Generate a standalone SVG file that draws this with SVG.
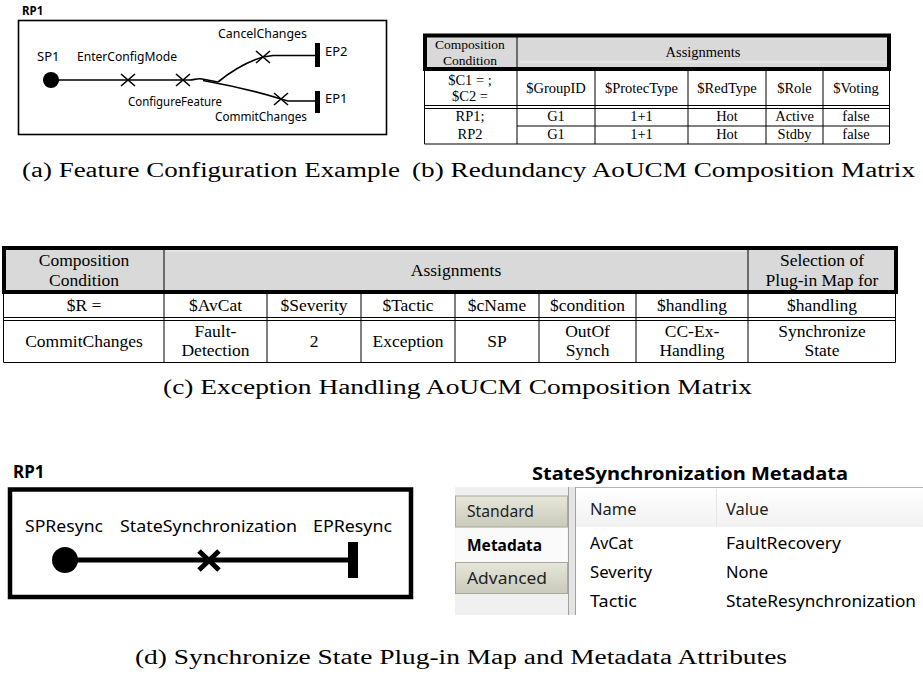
<svg xmlns="http://www.w3.org/2000/svg" width="923" height="675" viewBox="0 0 923 675">
<style>
.ui{font-family:"Noto Sans","Open Sans",sans-serif;fill:#000}
.tb{font-family:"Liberation Serif","Times New Roman",serif;fill:#000;text-anchor:middle}
.cap{font-family:"Liberation Serif","Times New Roman",serif;font-size:20.5px;fill:#000}
.thin{stroke:#000;stroke-width:1;fill:none}
.thick{stroke:#000;stroke-width:4;fill:none}
.hdr{fill:#d9d9d9}
.x{stroke:#000;stroke-width:1.6;fill:none}
.path{stroke:#000;stroke-width:1.7;fill:none}
.b{font-size:14.5px}
.c{font-size:17.5px}
</style>
<defs>
<linearGradient id="tab" x1="0" y1="0" x2="0" y2="1">
<stop offset="0" stop-color="#e6e6da"/><stop offset="1" stop-color="#cacabb"/>
</linearGradient>
<linearGradient id="gh" x1="0" y1="0" x2="0" y2="1">
<stop offset="0" stop-color="#ffffff"/><stop offset="1" stop-color="#f1f1f1"/>
</linearGradient>
</defs>
<rect width="923" height="675" fill="#fff"/>

<!-- Panel (a) -->
<g id="panelA">
<text x="22" y="15" font-size="11.5" font-weight="bold" class="ui">RP1</text>
<rect x="18.5" y="20.5" width="368" height="114" fill="none" stroke="#000" stroke-width="1.6"/>
</g>
<g id="connectorsA">
<path class="path" d="M51,80 H190 C194,80 197,78 202,79 L218,82"/>
<path class="path" d="M218,82 Q240,64 263,57 L273,55.5 H316"/>
<path class="path" d="M203,80.5 Q245,88 281,99 L288,101 H316"/>
</g>
<g id="SP1"><circle cx="51" cy="80" r="8"/><text x="37" y="61" font-size="13" class="ui">SP1</text></g>
<g id="EnterConfigMode"><path class="x" d="M121,74 L135,86 M121,86 L135,74"/><text x="77" y="61" font-size="13" class="ui" textLength="100" lengthAdjust="spacingAndGlyphs">EnterConfigMode</text></g>
<g id="ConfigureFeature"><path class="x" d="M176,74 L190,86 M176,86 L190,74"/><text x="128" y="106" font-size="13" class="ui" textLength="94" lengthAdjust="spacingAndGlyphs">ConfigureFeature</text></g>
<g id="CancelChanges"><path class="x" d="M256,51 L270,63 M256,63 L270,51"/><text x="218" y="38" font-size="13" class="ui" textLength="89" lengthAdjust="spacingAndGlyphs">CancelChanges</text></g>
<g id="CommitChanges"><path class="x" d="M274,93 L288,105 M274,105 L288,93"/><text x="215" y="121" font-size="13" class="ui" textLength="92" lengthAdjust="spacingAndGlyphs">CommitChanges</text></g>
<g id="EP2"><rect x="315" y="43" width="5" height="24"/><text x="325" y="56" font-size="13" class="ui">EP2</text></g>
<g id="EP1"><rect x="315" y="91" width="5" height="22"/><text x="325" y="103" font-size="13" class="ui">EP1</text></g>
<text x="22" y="177" class="cap" textLength="378" lengthAdjust="spacingAndGlyphs">(a) Feature Configuration Example</text>

<!-- Table (b) -->
<g id="tableB">
<rect x="425" y="35.5" width="464" height="33.5" class="hdr"/>
<line x1="519" y1="38" x2="887" y2="38" stroke="#ececec" stroke-width="1"/>
<line x1="519" y1="62" x2="887" y2="62" stroke="#ececec" stroke-width="1"/>
<line x1="517" y1="35.5" x2="517" y2="69" class="thin"/>
<rect x="425" y="35.5" width="464" height="33.5" class="thick"/>
<path class="thin" d="M424.5,69 V144 H889.5 V69 M424.5,105.5 H889.5 M424.5,108.5 H889.5 M517,69 V144 M595,69 V144 M688,69 V144 M766,69 V144 M823,69 V144 M517,126 H889.5"/>
<g class="tb b">
<text x="470" y="48.5" font-size="13.5">Composition</text><text x="470" y="65" font-size="13.5">Condition</text>
<text x="703" y="57">Assignments</text>
<text x="470" y="84.5">$C1 = ;</text><text x="470" y="101">$C2 =</text>
<text x="556" y="93">$GroupID</text><text x="641.5" y="93">$ProtecType</text><text x="727" y="93">$RedType</text><text x="794.5" y="93">$Role</text><text x="856" y="93">$Voting</text>
<text x="470" y="121">RP1;</text><text x="470" y="139">RP2</text>
<text x="556" y="121">G1</text><text x="641.5" y="121">1+1</text><text x="727" y="121">Hot</text><text x="794.5" y="121">Active</text><text x="856" y="121">false</text>
<text x="556" y="139">G1</text><text x="641.5" y="139">1+1</text><text x="727" y="139">Hot</text><text x="794.5" y="139">Stdby</text><text x="856" y="139">false</text>
</g>
</g>
<text x="412" y="177" class="cap" textLength="503" lengthAdjust="spacingAndGlyphs">(b) Redundancy AoUCM Composition Matrix</text>

<!-- Table (c) -->
<g id="tableC">
<rect x="4" y="248" width="892" height="44" class="hdr"/>
<line x1="166" y1="251" x2="746" y2="251" stroke="#ececec" stroke-width="1"/>
<line x1="164" y1="248" x2="164" y2="292" class="thin"/>
<line x1="748" y1="248" x2="748" y2="292" class="thin"/>
<rect x="4" y="248" width="892" height="44" class="thick"/>
<path class="thin" d="M3.5,292 V362.5 H895.5 V292 M3.5,317.5 H895.5 M3.5,320.5 H895.5 M164,292 V362 M267,292 V362 M361,292 V362 M455,292 V362 M539,292 V362 M636,292 V362 M748,292 V362"/>
<g class="tb c">
<text x="84" y="266">Composition</text><text x="84" y="286">Condition</text>
<text x="456" y="276">Assignments</text>
<text x="822" y="266">Selection of</text><text x="822" y="286">Plug-in Map for</text>
<text x="84" y="311">$R =</text><text x="215.5" y="311">$AvCat</text><text x="314" y="311">$Severity</text><text x="408" y="311">$Tactic</text><text x="497" y="311">$cName</text><text x="587.5" y="311">$condition</text><text x="692" y="311">$handling</text><text x="822" y="311">$handling</text>
<text x="84" y="347">CommitChanges</text>
<text x="215.5" y="337">Fault-</text><text x="215.5" y="356">Detection</text>
<text x="314" y="347">2</text><text x="408" y="347">Exception</text><text x="497" y="347">SP</text>
<text x="587.5" y="337">OutOf</text><text x="587.5" y="356">Synch</text>
<text x="692" y="337">CC-Ex-</text><text x="692" y="356">Handling</text>
<text x="822" y="337">Synchronize</text><text x="822" y="356">State</text>
</g>
</g>
<text x="163" y="394" class="cap" textLength="589" lengthAdjust="spacingAndGlyphs">(c) Exception Handling AoUCM Composition Matrix</text>

<!-- Panel (d) left -->
<g id="panelD">
<text x="13" y="478" font-size="17" font-weight="bold" class="ui">RP1</text>
<rect x="10" y="489.5" width="401" height="107.5" fill="none" stroke="#000" stroke-width="4.5"/>
</g>
<g id="connectorsD">
<line x1="65" y1="560" x2="350" y2="560" stroke="#000" stroke-width="5"/>
</g>
<g id="SPResync"><circle cx="65" cy="560" r="13"/><text x="25" y="532" font-size="17" class="ui" textLength="78" lengthAdjust="spacingAndGlyphs">SPResync</text></g>
<g id="StateSynchronization"><path d="M199,551 L219,570 M199,570 L219,551" stroke="#000" stroke-width="5" fill="none"/><text x="120" y="532" font-size="17" class="ui" textLength="177" lengthAdjust="spacingAndGlyphs">StateSynchronization</text></g>
<g id="EPResync"><rect x="348" y="542" width="10" height="36"/><text x="313" y="532" font-size="17" class="ui" textLength="79" lengthAdjust="spacingAndGlyphs">EPResync</text></g>

<!-- Panel (d) right: metadata -->
<g id="metadata">
<text x="532" y="480" font-size="18.5" font-weight="bold" class="ui" textLength="316" lengthAdjust="spacingAndGlyphs">StateSynchronization Metadata</text>
<rect x="455" y="487" width="113" height="128" fill="#f0f0f0"/>
<rect x="455.5" y="496" width="112" height="31" fill="url(#tab)" stroke="#a8a8a0"/>
<rect x="455.5" y="528" width="112" height="34" fill="#fafafa"/>
<rect x="455.5" y="562.5" width="112" height="31" fill="url(#tab)" stroke="#a8a8a0"/>
<rect x="568" y="487" width="8" height="128" fill="#e4e4e4"/>
<line x1="568.5" y1="487" x2="568.5" y2="615" stroke="#a0a0a0"/>
<line x1="575.5" y1="487" x2="575.5" y2="615" stroke="#a0a0a0"/>
<rect x="576" y="487.5" width="347" height="128" fill="#fff"/>
<rect x="576" y="488" width="347" height="39" fill="url(#gh)"/>
<line x1="576" y1="487.5" x2="923" y2="487.5" stroke="#b0b0b0"/>
<line x1="716.5" y1="489" x2="716.5" y2="527" stroke="#e6e6e6"/>
<g class="ui" font-size="16.5">
<text x="467" y="517" fill="#222" textLength="67" lengthAdjust="spacingAndGlyphs">Standard</text>
<text x="467" y="551" font-weight="bold" textLength="75" lengthAdjust="spacingAndGlyphs">Metadata</text>
<text x="467" y="584" fill="#222" textLength="80" lengthAdjust="spacingAndGlyphs">Advanced</text>
<text x="590" y="515" fill="#222">Name</text>
<text x="726" y="515" fill="#222">Value</text>
<text x="590" y="549" textLength="43" lengthAdjust="spacingAndGlyphs">AvCat</text>
<text x="590" y="578" textLength="62" lengthAdjust="spacingAndGlyphs">Severity</text>
<text x="590" y="607" textLength="47" lengthAdjust="spacingAndGlyphs">Tactic</text>
<text x="726" y="549" textLength="115" lengthAdjust="spacingAndGlyphs">FaultRecovery</text>
<text x="726" y="578" textLength="42" lengthAdjust="spacingAndGlyphs">None</text>
<text x="726" y="607" textLength="190" lengthAdjust="spacingAndGlyphs">StateResynchronization</text>
</g>
</g>
<text x="135" y="664" class="cap" textLength="652" lengthAdjust="spacingAndGlyphs">(d) Synchronize State Plug-in Map and Metadata Attributes</text>
</svg>
